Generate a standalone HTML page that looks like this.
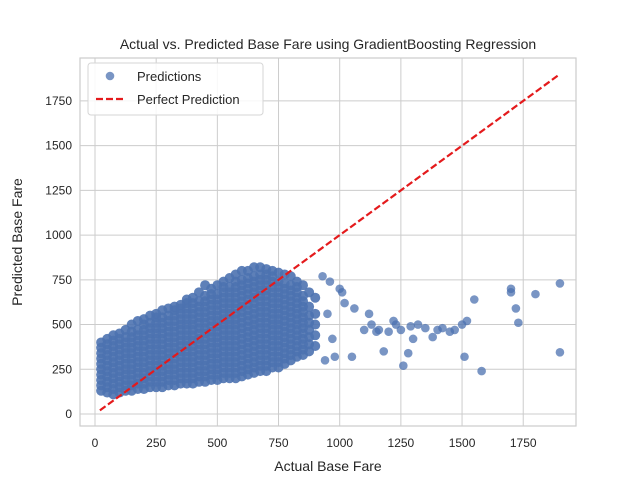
<!DOCTYPE html>
<html><head><meta charset="utf-8"><style>
body{margin:0;background:#fff;}
svg{display:block;font-family:"Liberation Sans",sans-serif;}
</style></head><body>
<svg id="chart" width="640" height="480" viewBox="0 0 640 480" xmlns="http://www.w3.org/2000/svg">
<rect x="0" y="0" width="640" height="480" fill="#fff"/>
<g id="grid"></g>
<g id="points"></g>
<g id="perfect"></g>
<rect x="80" y="58" width="496" height="368" fill="none" stroke="#cccccc" stroke-width="1.2"/>
<g id="ticks" font-size="12" fill="#262626"></g>
<text x="328" y="49" text-anchor="middle" font-size="14" fill="#262626">Actual vs. Predicted Base Fare using GradientBoosting Regression</text>
<text x="328" y="471" text-anchor="middle" font-size="14" fill="#262626">Actual Base Fare</text>
<text transform="translate(22,242) rotate(-90)" text-anchor="middle" font-size="14" fill="#262626">Predicted Base Fare</text>
<g>
<rect x="88" y="63" width="175" height="52" rx="3" fill="#fff" fill-opacity="0.85" stroke="#d6d6d6"/>
<circle cx="110" cy="76" r="4.3" fill="#4c72b0" fill-opacity="0.75"/>
<text x="137" y="81" font-size="13" fill="#262626">Predictions</text>
<line x1="96" y1="99" x2="124" y2="99" stroke="#e41a1c" stroke-width="2.2" stroke-dasharray="7,3"/>
<text x="137" y="104" font-size="13" fill="#262626">Perfect Prediction</text>
</g>
</svg>
<script>
const xTicks=[0,250,500,750,1000,1250,1500,1750];
const yTicks=[0,250,500,750,1000,1250,1500,1750];
const blobCols=[25,50,75,100,125,150,175,200,225,250,275,300,325,350,375,400,425,450,475,500,525,550,575,600,625,650,675,700,725,750,775,800,825,850,875,900];
const blobYs=[
[130,160,190,220,250,280,310,340,370,400],
[120,150,180,210,240,270,300,330,360,390,420],
[110,140,170,200,230,260,290,320,350,380,410,440],
[120,150,180,210,240,270,300,330,360,390,420,450],
[130,160,190,220,250,280,310,340,370,400,430,470],
[130,160,190,220,250,280,310,340,370,400,430,460,500],
[140,170,200,230,260,290,320,350,380,410,440,470,520],
[140,170,200,230,260,290,320,350,380,410,440,470,500,530],
[150,180,210,240,270,300,330,360,390,420,450,480,510,550],
[150,180,210,240,270,300,330,360,390,420,450,480,510,540,560],
[150,180,210,240,270,300,330,360,390,420,450,480,510,540,580],
[160,190,220,250,280,310,340,370,400,430,460,490,520,550,590],
[160,190,220,250,280,310,340,370,400,430,460,490,520,550,580,600],
[170,200,230,260,290,320,350,380,410,440,470,500,530,560,590,610],
[170,200,230,260,290,320,350,380,410,440,470,500,530,560,590,620,640],
[170,200,230,260,290,320,350,380,410,440,470,500,530,560,590,620,650],
[180,210,240,270,300,330,360,390,420,450,480,510,540,570,600,630,680],
[180,210,240,270,300,330,360,390,420,450,480,510,540,570,600,630,660,720],
[190,220,250,280,310,340,370,400,430,460,490,520,550,580,610,640,670,700],
[190,220,250,280,310,340,370,400,430,460,490,520,550,580,610,640,670,720],
[200,230,260,290,320,350,380,410,440,470,500,530,560,590,620,650,680,710,740],
[200,230,260,290,320,350,380,410,440,470,500,530,560,590,620,650,680,710,760],
[200,230,260,290,320,350,380,410,440,470,500,530,560,590,620,650,680,710,740,780],
[210,240,270,300,330,360,390,420,450,480,510,540,570,600,630,660,690,720,750,800],
[220,250,280,310,340,370,400,430,460,490,520,550,580,610,640,670,700,730,760,800],
[230,260,290,320,350,380,410,440,470,500,530,560,590,620,650,680,710,740,770,820],
[240,270,300,330,360,390,420,450,480,510,540,570,600,630,660,690,720,750,780,820],
[240,270,300,330,360,390,420,450,480,510,540,570,600,630,660,690,720,750,780,810],
[260,290,320,350,380,410,440,470,500,530,560,590,620,650,680,710,740,770,800],
[260,290,320,350,380,410,440,470,500,530,560,590,620,650,680,710,740,790],
[280,310,340,370,400,430,460,490,520,550,580,610,640,670,700,730,780],
[300,330,360,390,420,450,480,510,540,570,600,630,660,690,720,770],
[320,350,380,410,440,470,500,530,560,590,620,650,680,710,740],
[330,360,390,420,450,480,510,540,570,600,630,660,720],
[350,390,430,470,510,550,600,680],
[380,440,500,560,650]
];
const outX=[930,940,950,960,970,980,1000,1010,1020,1050,1060,1100,1120,1130,1150,1160,1180,1200,1220,1230,1250,1260,1280,1290,1300,1320,1350,1380,1400,1420,1450,1470,1500,1510,1520,1550,1580,1700,1700,1720,1730,1800,1900,1900];
const outY=[770,300,560,740,420,320,700,680,620,320,590,470,560,500,460,470,350,460,520,500,470,270,340,490,420,500,480,430,470,480,460,470,500,320,520,640,240,680,700,590,510,670,730,345];
const lineX=[20,1900];
const lineY=[20,1900];
const NS='http://www.w3.org/2000/svg';
function sx(v){return 95+v*0.2447;}
function sy(v){return 414-v*0.1789;}
function mk(tag,attrs,parent){const e=document.createElementNS(NS,tag);for(const k in attrs)e.setAttribute(k,attrs[k]);parent.appendChild(e);return e;}
const grid=document.getElementById('grid'),ticks=document.getElementById('ticks'),pts=document.getElementById('points'),pl=document.getElementById('perfect');
xTicks.forEach(t=>{
 const l=mk('line',{x1:sx(t),x2:sx(t),y1:58,y2:426,stroke:'#cccccc','stroke-width':1},grid);
 
 
 const tx=mk('text',{x:sx(t),y:447,'text-anchor':'middle'},ticks);tx.textContent=t;
 
 
});
yTicks.forEach(t=>{
 const l=mk('line',{x1:80,x2:576,y1:sy(t),y2:sy(t),stroke:'#cccccc','stroke-width':1},grid);
 
 
 const tx=mk('text',{x:72,y:sy(t)+4,'text-anchor':'end'},ticks);tx.textContent=t;
 
 
});
function dot(x,y,r,op){
 const c=mk('circle',{cx:sx(x),cy:sy(y),r:r,fill:'#4c72b0','fill-opacity':op},pts);
 
 
}
blobCols.forEach((x,i)=>blobYs[i].forEach(y=>dot(x,y,5,0.9)));
outX.forEach((x,i)=>dot(x,outY[i],4.3,0.75));
const ln=mk('line',{x1:sx(lineX[0]),y1:sy(lineY[0]),x2:sx(lineX[1]),y2:sy(lineY[1]),stroke:'#e41a1c','stroke-width':2.2,'stroke-dasharray':'7,3'},pl);


</script>
</body></html>
